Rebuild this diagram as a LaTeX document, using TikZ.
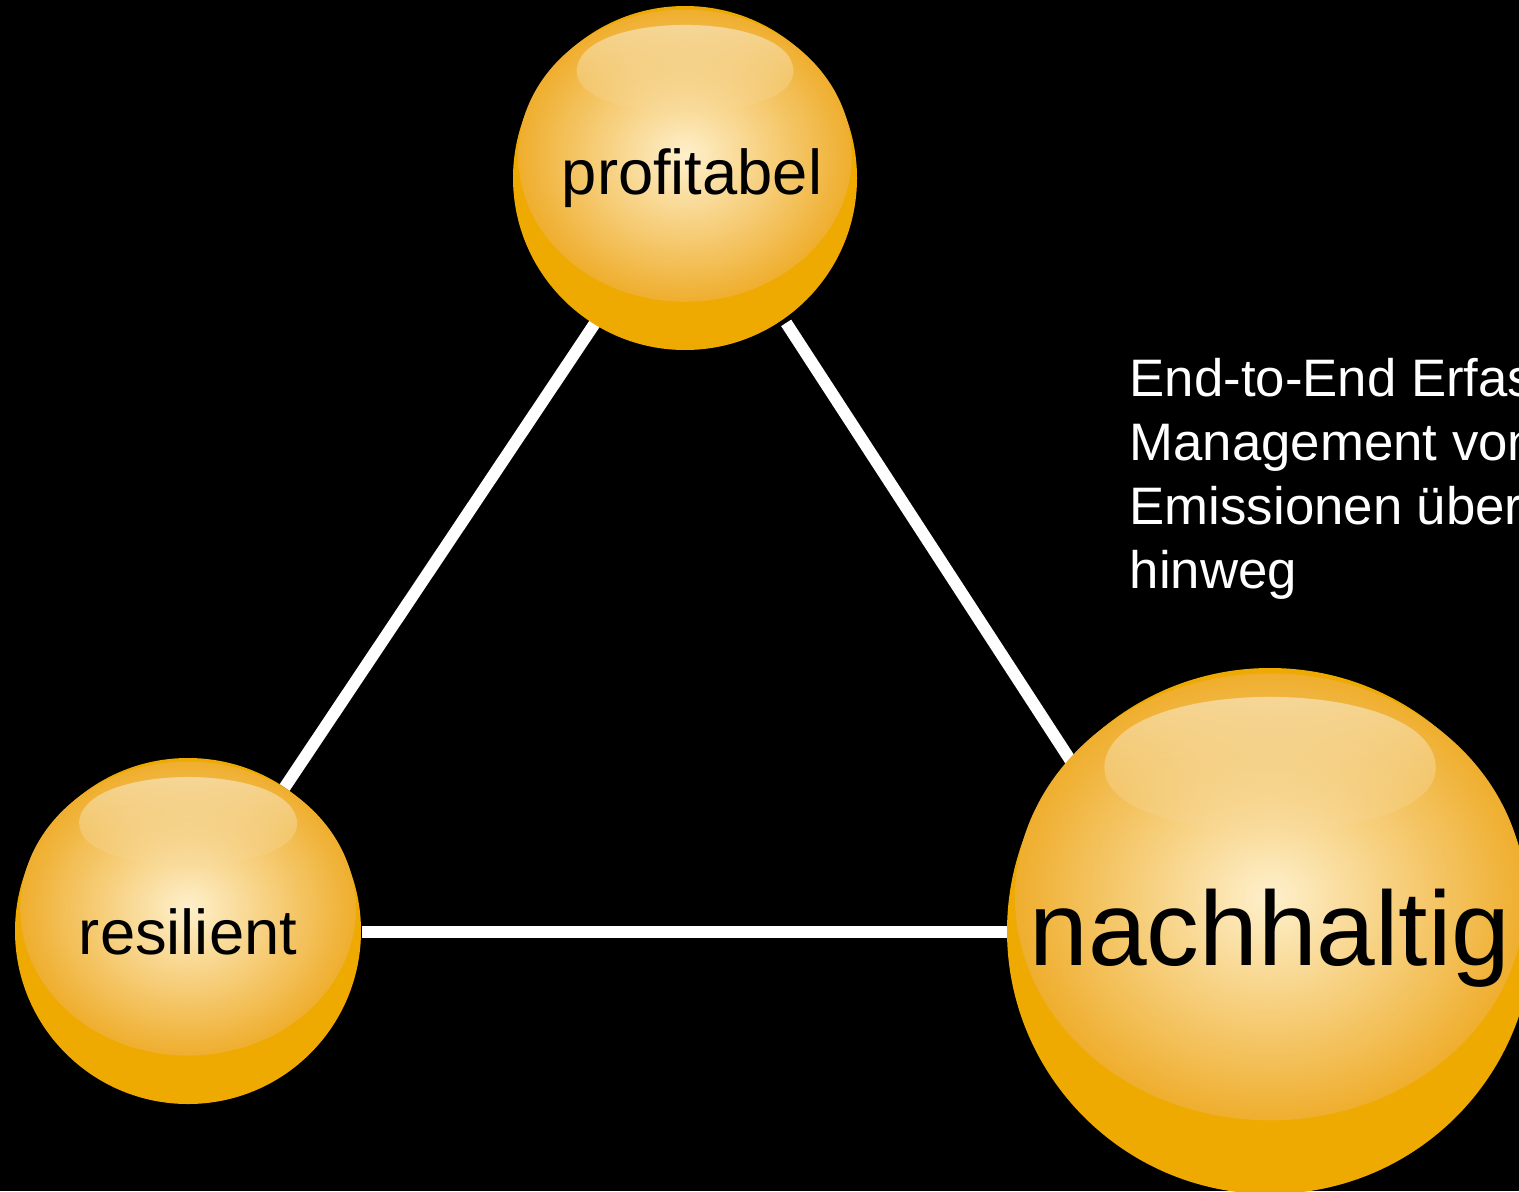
\documentclass[tikz,border=0pt]{standalone}
\usepackage{fontspec}
\setmainfont{Liberation Sans}
\usetikzlibrary{backgrounds,fadings}

\definecolor{ballrim}{HTML}{EEAA00}
\definecolor{glowin}{HTML}{FEF0CC}
\definecolor{glowout}{HTML}{EFAE2E}
\definecolor{hilite}{HTML}{F7DEAA}

\tikzfading[name=fadedown, top color=transparent!5, bottom color=transparent!100]

\newcommand{\ball}[2]{%
  \begin{scope}[shift={#1},scale=#2]
    \fill[ballrim] (0,0) circle (1);
    \shade[inner color=glowin,outer color=glowout] (0,-0.13) ellipse (0.97 and 0.85);
    \fill[hilite,path fading=fadedown] (-0.63,-0.62) .. controls (-0.63,-0.98) and (0.63,-0.98) .. (0.63,-0.62)
      .. controls (0.63,-0.30) and (-0.63,-0.30) .. cycle;
  \end{scope}}

\tikzset{
  ballnode/.style={circle, inner sep=0pt, text=black},
  link/.style={white, line width=3.4pt},
  notetext/.style={text=white, align=left, anchor=north west, inner sep=0pt,
    font=\fontsize{15}{18.2}\selectfont}
}

\begin{document}
\begin{tikzpicture}[x=0.01cm,y=-0.01cm]
\useasboundingbox (0,0) rectangle (1519,1191);
\begin{scope}[on background layer]
\fill[black] (0,0) rectangle (1519,1191);
\end{scope}
\clip (0,0) rectangle (1519,1191);

\ball{(685,178)}{172}
\ball{(188,931)}{173}
\ball{(1270,931)}{263}

\node[ballnode, minimum size=3.44cm, font=\fontsize{18}{21}\selectfont] (prof) at (692,178) {profitabel};
\node[ballnode, minimum size=3.46cm, font=\fontsize{18}{21}\selectfont] (res) at (188,932) {resilient};
\node[ballnode, minimum size=5.26cm, font=\fontsize{30}{36}\selectfont] (nach) at (1270,938) {nachhaltig};
\coordinate (corner) at (1182,932);

\node[notetext] (note) at (1129,358) {End-to-End Erfassung\\Management von\\Emissionen über\\hinweg};

\begin{scope}[on background layer]
\draw[link] (prof) -- (res);
\draw[link] (prof) -- (corner);
\draw[link] (res) -- (corner);
\end{scope}
\end{tikzpicture}
\end{document}
